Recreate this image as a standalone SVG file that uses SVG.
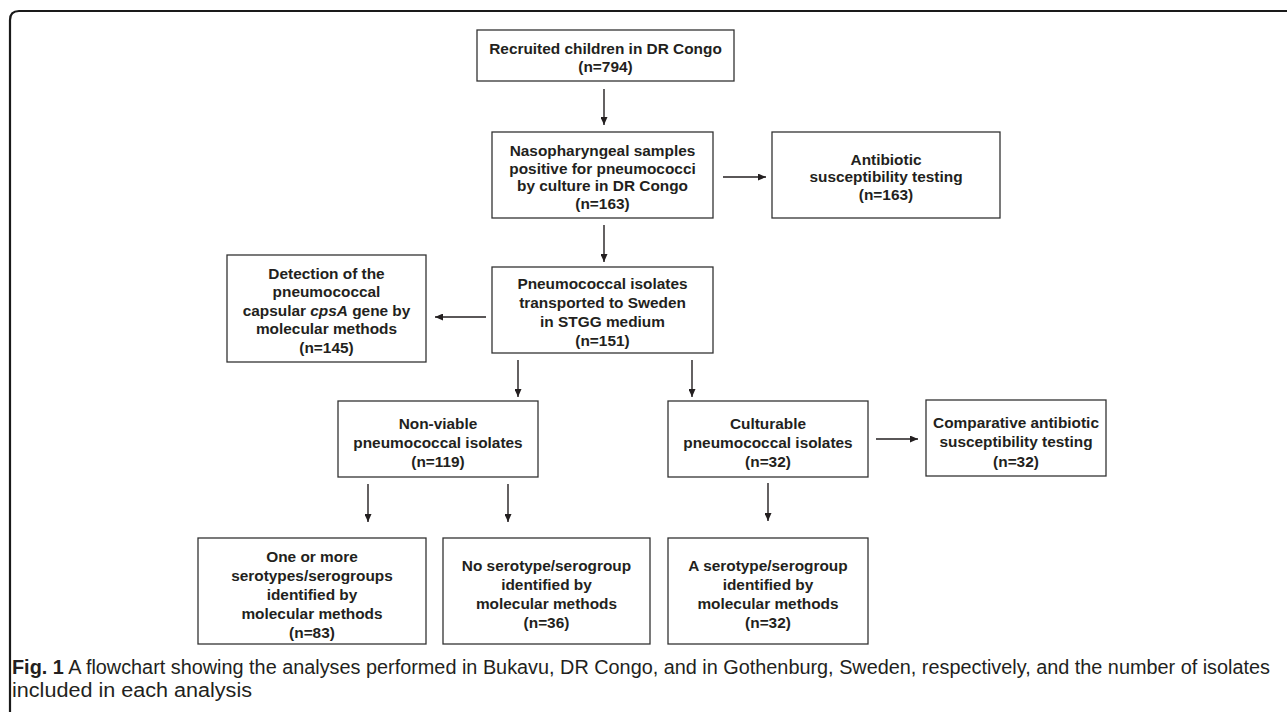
<svg xmlns="http://www.w3.org/2000/svg" width="1288" height="712" viewBox="0 0 1288 712">
<style>
.box{fill:#fff;stroke:#333;stroke-width:1.3}
.t{font-family:"Liberation Sans",Arial,Helvetica,sans-serif;font-weight:bold;font-size:15.4px;fill:#231f20;text-anchor:middle}
.c{stroke:#231f20;stroke-width:1.4;fill:none;marker-end:url(#ah)}
.cap{font-family:"Liberation Sans Narrow","Liberation Sans",Arial,sans-serif;font-size:20px;fill:#231f20}
</style>
<defs>
<marker id="ah" markerUnits="userSpaceOnUse" markerWidth="9" markerHeight="7" refX="8" refY="3.5" orient="auto">
<path d="M0,0 L8,3.5 L0,7 z" fill="#231f20"/>
</marker>
</defs>
<rect width="1288" height="712" fill="#fff"/>
<path d="M10,712 V20 Q10,11 19,11 H1287" fill="none" stroke="#1a1a1a" stroke-width="2.2"/>

<g id="n1"><rect class="box" x="477" y="30" width="257" height="51"/>
<text class="t" x="605.5" y="54">Recruited children in DR Congo</text>
<text class="t" x="605.5" y="72">(n=794)</text></g>

<g id="n2"><rect class="box" x="492" y="132" width="221" height="86"/>
<text class="t" x="602.5" y="156">Nasopharyngeal samples</text>
<text class="t" x="602.5" y="173.5">positive for pneumococci</text>
<text class="t" x="602.5" y="191">by culture in DR Congo</text>
<text class="t" x="602.5" y="208.5">(n=163)</text></g>

<g id="n3"><rect class="box" x="772" y="132" width="228" height="86"/>
<text class="t" x="886" y="164.5">Antibiotic</text>
<text class="t" x="886" y="182">susceptibility testing</text>
<text class="t" x="886" y="199.5">(n=163)</text></g>

<g id="n4"><rect class="box" x="227" y="255" width="199" height="107"/>
<text class="t" x="326.5" y="278.5">Detection of the</text>
<text class="t" x="326.5" y="297">pneumococcal</text>
<text class="t" x="326.5" y="315.5">capsular <tspan font-style="italic">cpsA</tspan> gene by</text>
<text class="t" x="326.5" y="334">molecular methods</text>
<text class="t" x="326.5" y="352.5">(n=145)</text></g>

<g id="n5"><rect class="box" x="492" y="267" width="221" height="86"/>
<text class="t" x="602.5" y="288.5">Pneumococcal isolates</text>
<text class="t" x="602.5" y="307.5">transported to Sweden</text>
<text class="t" x="602.5" y="326.5">in STGG medium</text>
<text class="t" x="602.5" y="345.5">(n=151)</text></g>

<g id="n6"><rect class="box" x="338" y="401" width="200" height="76"/>
<text class="t" x="438" y="428.5">Non-viable</text>
<text class="t" x="438" y="447.5">pneumococcal isolates</text>
<text class="t" x="438" y="466.5">(n=119)</text></g>

<g id="n7"><rect class="box" x="668" y="401" width="200" height="76"/>
<text class="t" x="768" y="428.5">Culturable</text>
<text class="t" x="768" y="447.5">pneumococcal isolates</text>
<text class="t" x="768" y="466.5">(n=32)</text></g>

<g id="n8"><rect class="box" x="926" y="400" width="180" height="76"/>
<text class="t" x="1016" y="427.5">Comparative antibiotic</text>
<text class="t" x="1016" y="447">susceptibility testing</text>
<text class="t" x="1016" y="466.5">(n=32)</text></g>

<g id="n9"><rect class="box" x="198" y="538" width="228" height="106"/>
<text class="t" x="312" y="561.5">One or more</text>
<text class="t" x="312" y="580.5">serotypes/serogroups</text>
<text class="t" x="312" y="599.5">identified by</text>
<text class="t" x="312" y="618.5">molecular methods</text>
<text class="t" x="312" y="637.5">(n=83)</text></g>

<g id="n10"><rect class="box" x="443" y="538" width="207" height="106"/>
<text class="t" x="546.5" y="571">No serotype/serogroup</text>
<text class="t" x="546.5" y="590">identified by</text>
<text class="t" x="546.5" y="609">molecular methods</text>
<text class="t" x="546.5" y="628">(n=36)</text></g>

<g id="n11"><rect class="box" x="668" y="538" width="200" height="106"/>
<text class="t" x="768" y="571">A serotype/serogroup</text>
<text class="t" x="768" y="590">identified by</text>
<text class="t" x="768" y="609">molecular methods</text>
<text class="t" x="768" y="628">(n=32)</text></g>

<g id="connectors">
<line class="c" x1="604" y1="89" x2="604" y2="125"/>
<line class="c" x1="723" y1="177" x2="766" y2="177"/>
<line class="c" x1="604" y1="225" x2="604" y2="262"/>
<line class="c" x1="486" y1="317" x2="435" y2="317"/>
<line class="c" x1="518" y1="360" x2="518" y2="397"/>
<line class="c" x1="692" y1="360" x2="692" y2="397"/>
<line class="c" x1="876" y1="439" x2="918" y2="439"/>
<line class="c" x1="368" y1="484" x2="368" y2="522"/>
<line class="c" x1="508" y1="484" x2="508" y2="522"/>
<line class="c" x1="768" y1="483" x2="768" y2="521"/>
</g>

<text class="cap" x="12" y="674" textLength="1258" lengthAdjust="spacingAndGlyphs"><tspan font-weight="bold">Fig. 1</tspan> A flowchart showing the analyses performed in Bukavu, DR Congo, and in Gothenburg, Sweden, respectively, and the number of isolates</text>
<text class="cap" x="12" y="697" textLength="240" lengthAdjust="spacingAndGlyphs">included in each analysis</text>
</svg>
